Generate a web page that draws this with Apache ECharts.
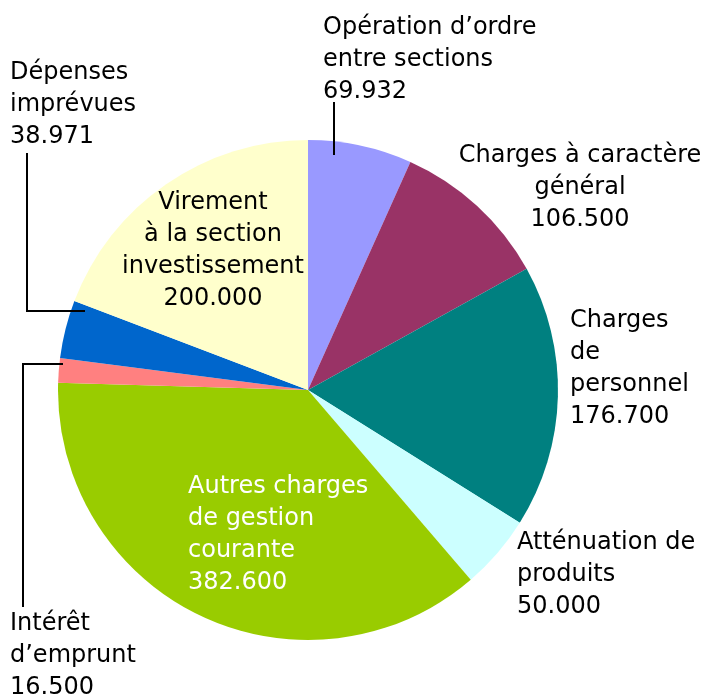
<!DOCTYPE html>
<html>
<head>
<meta charset="utf-8">
<script src="https://cdn.jsdelivr.net/npm/echarts@6/dist/echarts.min.js"></script>
<style>
html,body{margin:0;padding:0;background:#fff;}
#c{width:708px;height:696px;}
</style>
</head>
<body>
<div id="c"></div>
<script>
// Data
const categories = [
  "Opération d’ordre\nentre sections",
  "Charges à caractère\ngénéral",
  "Charges\nde\npersonnel",
  "Atténuation de\nproduits",
  "Autres charges\nde gestion\ncourante",
  "Intérêt\nd’emprunt",
  "Dépenses\nimprévues",
  "Virement\nà la section\ninvestissement"
];
const values = [69.932, 106.5, 176.7, 50.0, 382.6, 16.5, 38.971, 200.0];
const valueLabels = ["69.932", "106.500", "176.700", "50.000", "382.600", "16.500", "38.971", "200.000"];

// Styling / layout (not data)
const colors = ["#9999ff", "#993366", "#008080", "#ccffff", "#99cc00", "#ff8080", "#0066cc", "#ffffcc"];
const labelPos = [
  {x: 323, y: 12, align: "left"},
  {x: 580, y: 140, align: "center"},
  {x: 570, y: 305, align: "left"},
  {x: 517, y: 527, align: "left"},
  {x: 188, y: 471, align: "left"},
  {x: 10, y: 608, align: "left"},
  {x: 10, y: 57, align: "left"},
  {x: 213, y: 187, align: "center"}
];
const leaderLines = {
  0: [[334, 155], [334, 130], [334, 102]],
  5: [[63, 364], [23, 364], [23, 607]],
  6: [[85, 311], [27, 311], [27, 153]]
};
const textColors = ["#000", "#000", "#000", "#000", "#fff", "#000", "#000", "#000"];

const chart = echarts.init(document.getElementById('c'), null, {renderer: 'canvas'});

const sectorData = values.map((v, i) => ({
  name: categories[i],
  value: v,
  itemStyle: {color: colors[i]}
}));
const labelData = values.map((v, i) => ({
  name: categories[i],
  value: v,
  itemStyle: {color: 'rgba(0,0,0,0)'},
  label: {color: textColors[i]},
  labelLine: {show: !!leaderLines[i], lineStyle: {color: '#000', width: 2}}
}));

const common = {
  type: 'pie',
  center: [308, 390],
  radius: 250,
  startAngle: 90,
  clockwise: true,
  avoidLabelOverlap: false,
  silent: true
};

chart.setOption({
  animation: false,
  series: [
    Object.assign({}, common, {
      z: 1,
      itemStyle: {borderWidth: 0},
      label: {show: false},
      labelLine: {show: false},
      data: sectorData
    }),
    Object.assign({}, common, {
      z: 5,
      itemStyle: {borderWidth: 0},
      label: {
        show: true,
        position: 'outside',
        fontFamily: 'DejaVu Sans',
        fontSize: 24,
        lineHeight: 32,
        formatter: p => p.name + "\n" + valueLabels[p.dataIndex]
      },
      labelLine: {show: true},
      labelLayout: function (params) {
        const i = params.dataIndex;
        const lp = labelPos[i];
        const res = {x: lp.x, y: lp.y, align: lp.align, verticalAlign: 'top'};
        if (leaderLines[i]) res.labelLinePoints = leaderLines[i];
        return res;
      },
      data: labelData
    })
  ]
});
</script>
</body>
</html>
